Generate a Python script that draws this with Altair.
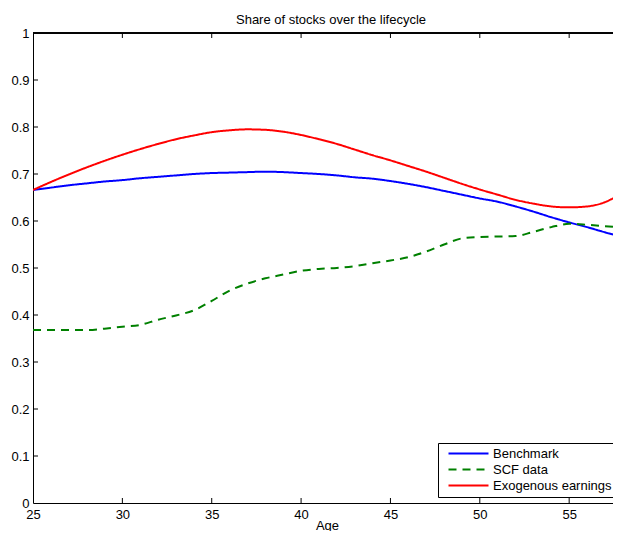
import altair as alt
import pandas as pd

ages = list(range(25, 59))
benchmark = [0.666, 0.671, 0.676, 0.680, 0.684, 0.687, 0.691, 0.694, 0.697, 0.700,
             0.702, 0.703, 0.704, 0.705, 0.704, 0.702, 0.700, 0.697, 0.693, 0.690,
             0.685, 0.679, 0.672, 0.664, 0.656, 0.648, 0.641, 0.631, 0.620, 0.608,
             0.597, 0.587, 0.576, 0.566]
scf = [0.368, 0.368, 0.368, 0.368, 0.371, 0.375, 0.379, 0.390, 0.399, 0.410,
       0.430, 0.452, 0.467, 0.478, 0.486, 0.494, 0.498, 0.500, 0.504, 0.510,
       0.516, 0.523, 0.535, 0.550, 0.563, 0.566, 0.567, 0.568, 0.577, 0.587,
       0.594, 0.592, 0.589, 0.586]
exog = [0.666, 0.683, 0.699, 0.714, 0.728, 0.741, 0.753, 0.764, 0.774, 0.782,
        0.789, 0.793, 0.795, 0.794, 0.790, 0.783, 0.774, 0.764, 0.752, 0.740,
        0.729, 0.717, 0.705, 0.692, 0.679, 0.667, 0.656, 0.645, 0.637, 0.631,
        0.629, 0.631, 0.640, 0.661]

series_names = ["Benchmark", "SCF data", "Exogenous earnings"]
series_colors = ["#0000ff", "#008000", "#ff0000"]
series_dash = [[1, 0], [8, 6], [1, 0]]

x_ticks = [25, 30, 35, 40, 45, 50, 55]
y_ticks = [0, 0.1, 0.2, 0.3, 0.4, 0.5, 0.6, 0.7, 0.8, 0.9, 1]

rows = []
for name, vals in zip(series_names, [benchmark, scf, exog]):
    for a, v in zip(ages, vals):
        rows.append({"Age": a, "Share": v, "Series": name})
df = pd.DataFrame(rows)

W, H = 588, 470
FONT = "Liberation Sans"
xscale = alt.Scale(domain=[25, 57.9], nice=False, zero=False)
yscale = alt.Scale(domain=[0, 1], nice=False)

lines = alt.Chart(df).mark_line(strokeWidth=2, clip=True, interpolate="monotone").encode(
    x=alt.X("Age:Q", scale=xscale,
            axis=alt.Axis(values=x_ticks, title="Age", format="d",
                          titleBaseline="middle", titleY=22)),
    y=alt.Y("Share:Q", scale=yscale,
            axis=alt.Axis(values=y_ticks, title=None, format="~g")),
    color=alt.Color("Series:N",
                    scale=alt.Scale(domain=series_names, range=series_colors),
                    sort=series_names,
                    legend=alt.Legend(title=None, orient="none", legendX=405, legendY=410,
                                      strokeColor="black", fillColor="white",
                                      padding=4, symbolType="M0,0H10", symbolSize=64,
                                      symbolStrokeWidth=2, labelFontSize=13, labelFont=FONT,
                                      labelColor="black", rowPadding=2, labelOffset=38,
                                      cornerRadius=0)),
    strokeDash=alt.StrokeDash("Series:N",
                              scale=alt.Scale(domain=series_names, range=series_dash),
                              sort=series_names, legend=None),
)

tick_x_df = pd.DataFrame({"t": x_ticks[1:]})
tick_y_df = pd.DataFrame({"t": y_ticks[1:-1]})

top_ticks = alt.Chart(tick_x_df).mark_rule(color="black", strokeWidth=1).encode(
    x=alt.X("t:Q", scale=xscale), y=alt.value(0), y2=alt.value(5))
bottom_ticks = alt.Chart(tick_x_df).mark_rule(color="black", strokeWidth=1).encode(
    x=alt.X("t:Q", scale=xscale), y=alt.value(H), y2=alt.value(H - 5))
left_ticks = alt.Chart(tick_y_df).mark_rule(color="black", strokeWidth=1).encode(
    y=alt.Y("t:Q", scale=yscale), x=alt.value(0), x2=alt.value(5))
top_border = alt.Chart(tick_x_df).mark_rule(color="black", strokeWidth=1).encode(
    x=alt.value(0), x2=alt.value(W + 10), y=alt.value(0))

chart = alt.layer(lines, top_ticks, bottom_ticks, left_ticks, top_border).properties(
    width=W, height=H,
    title=alt.TitleParams("Share of stocks over the lifecycle", fontSize=13, font=FONT,
                          fontWeight="normal", color="black", offset=0, dx=4,
                          frame="group"),
    autosize=alt.AutoSizeParams(type="none"),
    padding={"left": 25, "top": 25, "right": -8, "bottom": 28},
).configure_view(stroke=None).configure_axis(
    domainColor="black", domainWidth=1, ticks=False, grid=False, labelFlush=False,
    labelFont=FONT, labelFontSize=13, labelColor="black",
    titleFont=FONT, titleFontSize=13, titleColor="black", titleFontWeight="normal",
).configure_axisX(labelPadding=5).configure_axisY(labelPadding=4)

chart.save("out.html", embed_options={"renderer": "svg", "actions": False})
